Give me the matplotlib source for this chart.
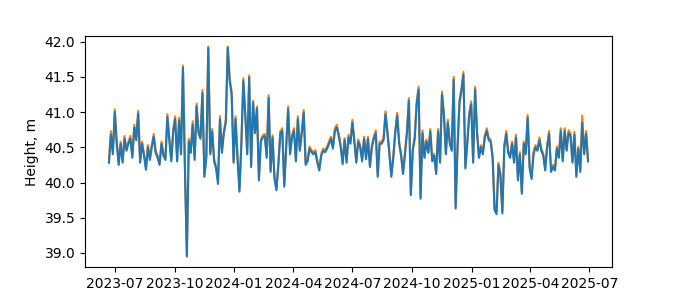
import numpy as np
import pandas as pd
import matplotlib
matplotlib.use("Agg")
import matplotlib.pyplot as plt

start_date = "2023-06-22"
step_days = 3

height_mean = [
    40.28, 40.68, 40.40, 41.00, 40.55, 40.25, 40.55, 40.28, 40.62, 40.45,
    40.55, 40.62, 40.35, 40.78, 40.60, 40.98, 40.28, 40.55, 40.38, 40.18,
    40.50, 40.32, 40.50, 40.65, 40.42, 40.35, 40.25, 40.55, 40.38, 40.32,
    40.93, 40.60, 40.30, 40.72, 40.90, 40.30, 40.88, 40.40, 41.63, 40.20,
    38.95, 40.58, 40.42,
    40.82, 40.32, 41.08, 40.70, 40.62, 41.27, 40.08, 40.35, 41.91, 40.40,
    40.72, 40.30, 40.20, 39.98, 40.90, 40.42, 40.70, 40.85, 41.91, 41.44,
    41.25, 40.28, 40.90, 40.35, 39.87, 40.55, 41.44, 40.95, 40.40, 41.49,
    40.22, 41.13, 40.70, 41.05, 40.03, 40.58, 40.64, 40.66, 40.35, 41.20,
    40.15,
    40.64, 40.05, 39.89, 40.25, 40.70, 40.73, 39.94, 40.50, 41.04, 40.40,
    40.64, 40.73, 40.30, 40.90, 40.45, 40.70, 40.99, 40.25, 40.30, 40.48,
    40.43, 40.40, 40.43, 40.28, 40.17, 40.38, 40.45, 40.43, 40.48, 40.55,
    40.62, 40.48, 40.73, 40.78, 40.66, 40.50, 40.26, 40.60, 40.28, 40.64,
    40.55,
    40.85, 40.58, 40.28, 40.58, 40.50, 40.30, 40.62, 40.33, 40.62, 40.22,
    40.50, 40.62, 40.70, 40.08, 40.55, 40.55, 40.60, 40.97, 40.70, 40.40,
    40.08, 40.35, 40.70, 40.95, 40.55, 40.38, 40.12, 40.40, 40.70, 41.16,
    39.82, 40.45, 40.62, 41.11, 41.32, 39.77, 40.70, 40.35, 40.58, 40.42,
    40.72,
    40.30, 40.38, 40.12, 40.72, 40.28, 41.25, 40.95, 40.40, 40.85, 40.55,
    40.45, 41.46, 39.63, 40.50, 41.13, 41.30, 41.53, 40.20, 40.55, 40.95,
    41.11, 40.28, 41.32, 40.70, 40.35, 40.50, 40.40, 40.64, 40.73, 40.60,
    40.58, 40.35, 39.61, 39.55, 40.25,
    40.10, 39.56, 40.50, 40.69, 40.42, 40.35, 40.55, 40.28, 40.64, 40.03,
    40.40, 39.84, 40.55, 40.40, 40.92, 40.20, 40.05, 40.40, 40.50, 40.45,
    40.60, 40.45, 40.38, 40.17, 40.50, 40.69, 40.15, 40.22, 40.17, 40.48,
    40.35, 40.73, 40.30, 40.73, 40.45, 40.70, 40.66, 40.28, 40.68, 40.08,
    40.48, 40.15, 40.85, 40.40, 40.69, 40.30,
]

height_max = [
    40.31, 40.73, 40.43, 41.04, 40.58, 40.28, 40.58, 40.31, 40.66, 40.48,
    40.58, 40.66, 40.38, 40.82, 40.63, 41.02, 40.31, 40.58, 40.41, 40.21,
    40.53, 40.35, 40.53, 40.69, 40.45, 40.38, 40.28, 40.58, 40.41, 40.35,
    40.97, 40.63, 40.33, 40.76, 40.94, 40.33, 40.92, 40.43, 41.66, 40.23,
    38.97, 40.62, 40.45,
    40.87, 40.35, 41.12, 40.73, 40.65, 41.31, 40.11, 40.38, 41.93, 40.43,
    40.76, 40.33, 40.23, 40.01, 40.94, 40.45, 40.73, 40.89, 41.93, 41.48,
    41.29, 40.31, 40.94, 40.38, 39.90, 40.58, 41.48, 40.98, 40.43, 41.52,
    40.25, 41.16, 40.73, 41.08, 40.06, 40.61, 40.67, 40.69, 40.38, 41.24,
    40.18,
    40.67, 40.08, 39.92, 40.28, 40.73, 40.77, 39.97, 40.53, 41.08, 40.43,
    40.67, 40.77, 40.33, 40.94, 40.48, 40.73, 41.03, 40.28, 40.33, 40.51,
    40.46, 40.43, 40.46, 40.31, 40.20, 40.41, 40.48, 40.46, 40.51, 40.58,
    40.65, 40.51, 40.77, 40.82, 40.69, 40.53, 40.29, 40.63, 40.31, 40.68,
    40.58,
    40.89, 40.61, 40.31, 40.61, 40.53, 40.33, 40.65, 40.36, 40.65, 40.25,
    40.53, 40.65, 40.74, 40.11, 40.58, 40.58, 40.63, 41.01, 40.73, 40.43,
    40.11, 40.38, 40.73, 40.99, 40.58, 40.41, 40.15, 40.43, 40.73, 41.20,
    39.85, 40.48, 40.65, 41.15, 41.36, 39.80, 40.74, 40.38, 40.61, 40.45,
    40.76,
    40.33, 40.41, 40.15, 40.76, 40.31, 41.29, 40.98, 40.43, 40.89, 40.58,
    40.48, 41.50, 39.66, 40.53, 41.17, 41.34, 41.57, 40.23, 40.58, 40.99,
    41.15, 40.31, 41.36, 40.73, 40.38, 40.53, 40.43, 40.67, 40.77, 40.63,
    40.61, 40.38, 39.64, 39.58, 40.28,
    40.13, 39.59, 40.53, 40.73, 40.45, 40.38, 40.58, 40.31, 40.68, 40.06,
    40.43, 39.87, 40.58, 40.43, 40.96, 40.23, 40.08, 40.43, 40.53, 40.48,
    40.64, 40.48, 40.41, 40.20, 40.53, 40.73, 40.18, 40.25, 40.20, 40.51,
    40.38, 40.77, 40.33, 40.77, 40.48, 40.74, 40.70, 40.31, 40.72, 40.11,
    40.51, 40.18, 40.95, 40.43, 40.73, 40.33,
]

dates = pd.date_range(start_date, periods=len(height_mean), freq=f"{step_days}D").to_numpy()

fig, ax = plt.subplots(figsize=(6.8, 3.0), dpi=100)
ax.plot(dates, height_max, color="tab:orange")
ax.plot(dates, height_mean, color="tab:blue")
ax.set_ylabel("Height, m")
fig.savefig("out.png", dpi=100)
